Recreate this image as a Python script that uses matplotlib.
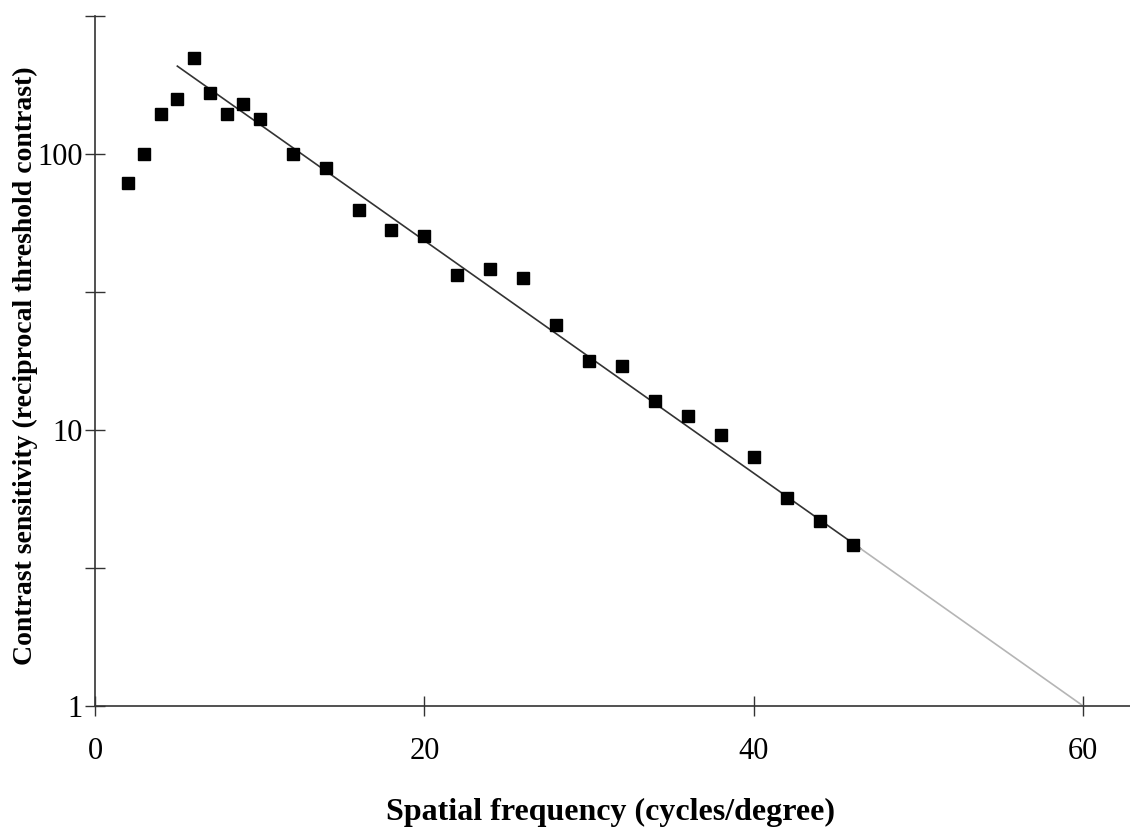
import numpy as np
import matplotlib
matplotlib.use('Agg')
import matplotlib.pyplot as plt

# 数据：空间频率与对比敏感度
freq = [2, 3, 4, 5, 6, 7, 8, 9, 10, 12, 14, 16, 18, 20, 22, 24, 26, 28,
        30, 32, 34, 36, 38, 40, 42, 44, 46]
sens = [78.5, 100, 140, 158, 222, 166, 140, 152, 134, 100, 89, 62.7, 53.1, 50.5,
        36.5, 38.4, 35.6, 24.1, 17.8, 17.1, 12.7, 11.2, 9.6, 7.95, 5.65, 4.67, 3.82]

# 拟合直线（实线部分和外推部分）
fit_x = [5, 46.5]
fit_y = [208, 3.71]
ext_x = [46.5, 60]
ext_y = [3.71, 1.0]

x_ticks = [0, 20, 40, 60]
y_ticks = [1, 3.16, 10, 31.6, 100, 316]
y_labels = ['1', '', '10', '', '100', '']

plt.rcParams['font.family'] = ['Liberation Serif', 'DejaVu Serif']

fig = plt.figure(figsize=(11.3, 8.27), dpi=100)
ax = fig.add_axes([95/1130, 1-706/827, 1035/1130, 690/827])

ax.plot(fit_x, fit_y, color='#333333', lw=1.2, zorder=2)
ax.plot(ext_x, ext_y, color='#b5b5b5', lw=1.2, zorder=2)
ax.plot(freq, sens, linestyle='none', marker='s', markersize=8.5,
        color='black', zorder=3)

ax.set_yscale('log')
ax.set_xlim(0, 62.84)
ax.set_ylim(1, 316)
ax.set_xticks(x_ticks)
ax.set_xticklabels([str(v) for v in x_ticks])
ax.set_yticks(y_ticks)
ax.set_yticklabels(y_labels)
ax.yaxis.set_minor_locator(matplotlib.ticker.NullLocator())

for s in ['top', 'right']:
    ax.spines[s].set_visible(False)
for s in ['left', 'bottom']:
    ax.spines[s].set_color('#333333')
    ax.spines[s].set_linewidth(1.2)

ax.tick_params(axis='both', direction='inout', length=14, width=1,
               color='#333333', labelsize=22)
ax.tick_params(axis='x', pad=15)
ax.tick_params(axis='y', pad=2)

ax.set_xlabel('Spatial frequency (cycles/degree)', fontsize=23, fontweight='bold')
ax.set_ylabel('Contrast sensitivity (reciprocal threshold contrast)', fontsize=20,
              fontweight='bold')
ax.xaxis.set_label_coords(0.4976, -0.1536)
ax.yaxis.set_label_coords(-0.0676, 0.4928)
ax.xaxis.label.set_va('center')
ax.yaxis.label.set_va('center')

plt.savefig('out.png', dpi=100)
plt.close(fig)
